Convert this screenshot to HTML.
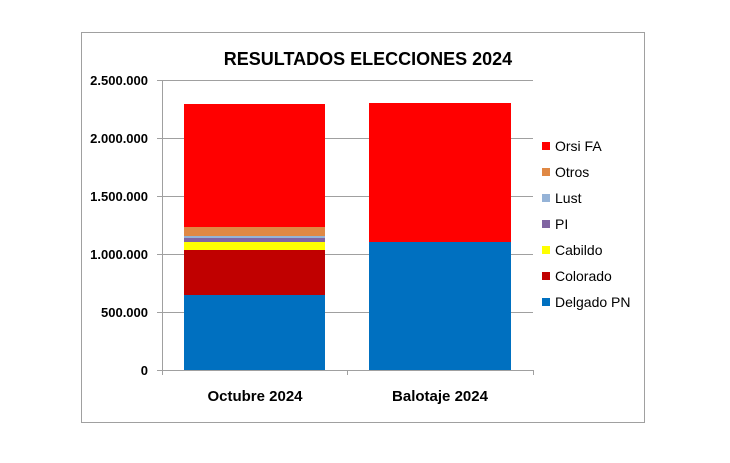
<!DOCTYPE html><html><head><style>body{margin:0;background:#fff}</style></head><body>
<svg width="730" height="458" xmlns="http://www.w3.org/2000/svg" font-family="Liberation Sans, sans-serif">
<rect x="81.5" y="32.5" width="563" height="390" fill="#fff" stroke="#a0a0a0"/>
<text x="368" y="65" text-anchor="middle" font-size="18" font-weight="bold">RESULTADOS ELECCIONES 2024</text>
<g stroke="#a0a0a0">
<line x1="157" y1="80.5" x2="533" y2="80.5"/><line x1="157" y1="138.5" x2="533" y2="138.5"/>
<line x1="157" y1="196.5" x2="533" y2="196.5"/><line x1="157" y1="254.5" x2="533" y2="254.5"/>
<line x1="157" y1="312.5" x2="533" y2="312.5"/><line x1="157" y1="370.5" x2="533" y2="370.5"/>
<line x1="162.5" y1="80" x2="162.5" y2="375"/><line x1="347.5" y1="370" x2="347.5" y2="375"/><line x1="533.5" y1="370" x2="533.5" y2="375"/>
</g>
<g font-size="13" font-weight="bold" text-anchor="end">
<text x="148" y="85">2.500.000</text><text x="148" y="143">2.000.000</text><text x="148" y="201">1.500.000</text>
<text x="148" y="259">1.000.000</text><text x="148" y="317">500.000</text><text x="148" y="375">0</text></g>
<rect x="184" y="104" width="141" height="123" fill="#ff0000"/>
<rect x="184" y="227" width="141" height="9" fill="#e08844"/>
<rect x="184" y="236" width="141" height="2" fill="#95b3d7"/>
<rect x="184" y="238" width="141" height="4" fill="#8064a2"/>
<rect x="184" y="242" width="141" height="8" fill="#ffff00"/>
<rect x="184" y="250" width="141" height="45" fill="#c00000"/>
<rect x="184" y="295" width="141" height="75" fill="#0070c0"/>
<rect x="369" y="103" width="142" height="139" fill="#ff0000"/>
<rect x="369" y="242" width="142" height="128" fill="#0070c0"/>
<g font-size="15" font-weight="bold" text-anchor="middle"><text x="255" y="401">Octubre 2024</text><text x="440" y="401">Balotaje 2024</text></g>
<g font-size="14">
<rect x="542" y="142" width="8" height="8" fill="#ff0000"/><text x="555" y="151">Orsi FA</text>
<rect x="542" y="168" width="8" height="8" fill="#e08844"/><text x="555" y="177">Otros</text>
<rect x="542" y="194" width="8" height="8" fill="#95b3d7"/><text x="555" y="203">Lust</text>
<rect x="542" y="220" width="8" height="8" fill="#8064a2"/><text x="555" y="229">PI</text>
<rect x="542" y="246" width="8" height="8" fill="#ffff00"/><text x="555" y="255">Cabildo</text>
<rect x="542" y="272" width="8" height="8" fill="#c00000"/><text x="555" y="281">Colorado</text>
<rect x="542" y="298" width="8" height="8" fill="#0070c0"/><text x="555" y="307">Delgado PN</text>
</g>
</svg></body></html>
